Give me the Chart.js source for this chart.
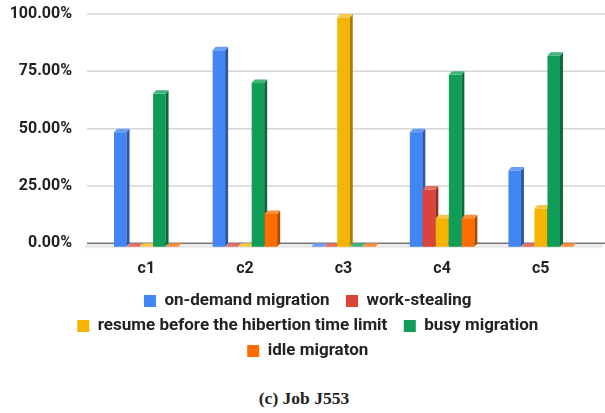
<!DOCTYPE html>
<html>
<head>
<meta charset="utf-8">
<script src="https://cdn.jsdelivr.net/npm/chart.js@4.4.1/dist/chart.umd.min.js"></script>
<style>
  html, body { margin: 0; padding: 0; background: #fff; }
  #wrap { position: relative; width: 605px; height: 413px; }
  #box { position: absolute; left: 0; top: 0; width: 605px; height: 372px; }
  #caption {
    position: absolute; left: 0; top: 388px; width: 608px; line-height: 20px;
    text-align: center; font-family: "Liberation Serif", serif; font-weight: bold;
    font-size: 17.5px; color: #222;
  }
</style>
</head>
<body>
<div id="wrap">
  <div id="box"><canvas id="chart"></canvas></div>
  <div id="caption">(c) Job J553</div>
</div>
<script>
// --- data ---
const categories = ["c1", "c2", "c3", "c4", "c5"];
const onDemand     = [50, 85.7, 0, 50, 33.3];
const workStealing = [0, 0, 0, 25, 0];
const resumeBefore = [0, 0, 100, 12.5, 16.7];
const busyMigr     = [66.7, 71.4, 0, 75, 83.3];
const idleMigr     = [0, 14.3, 0, 12.5, 0];
const seriesNames = [
  "on-demand migration", "work-stealing",
  "resume before the hibertion time limit", "busy migration", "idle migraton"
];
const seriesValues = [onDemand, workStealing, resumeBefore, busyMigr, idleMigr];

// front / side / top colours of the 3d bars
const frontColors = ["#4285F4", "#DB4437", "#F4B400", "#0F9D58", "#FF6D00"];
const sideColors  = ["#2B57A8", "#962A20", "#A97D00", "#0A6A3B", "#AE4A00"];
const topColors   = ["#6A9EF6", "#E36E63", "#F7C84A", "#3FB37A", "#FF8E3C"];

const DX = 3, DY = 3.5;       // bar depth
const GRID_L = 87, GRID_R = 605;
const LEGEND_SHIFT = 13, LEGEND_DY = 2;

// grid on the back wall + floor, then the 3d bars in group order
const bars3d = {
  id: "bars3d",
  afterLayout(chart) {
    const lg = chart.legend;
    lg.left += LEGEND_SHIFT; lg.right += LEGEND_SHIFT;
    lg.top += LEGEND_DY; lg.bottom += LEGEND_DY;
  },
  beforeDatasetsDraw(chart) {
    const { ctx, scales: { y } } = chart;
    const zy = y.getPixelForValue(0);
    ctx.save();
    ctx.strokeStyle = "#d6d6d6";
    ctx.lineWidth = 1.5;
    y.ticks.forEach(t => {
      if (t.value === 0) return;
      const py = y.getPixelForValue(t.value);
      ctx.beginPath(); ctx.moveTo(GRID_L, py); ctx.lineTo(GRID_R, py); ctx.stroke();
    });
    ctx.fillStyle = "#ebebeb";
    ctx.beginPath();
    ctx.moveTo(GRID_L, zy); ctx.lineTo(GRID_R, zy);
    ctx.lineTo(GRID_R - DX, zy + DY + 1.5); ctx.lineTo(GRID_L - DX, zy + DY + 1.5);
    ctx.closePath(); ctx.fill();
    ctx.strokeStyle = "#777";
    ctx.beginPath(); ctx.moveTo(GRID_L, zy); ctx.lineTo(GRID_R, zy); ctx.stroke();
    ctx.restore();
  },
  afterDatasetsDraw(chart) {
    const { ctx } = chart;
    ctx.save();
    categories.forEach((_, i) => {
      seriesValues.forEach((_, d) => {
        const el = chart.getDatasetMeta(d).data[i];
        if (!el) return;
        const { x, y, base, width } = el.getProps(["x", "y", "base", "width"], true);
        const l = x - width / 2, r = x + width / 2;
        const fl = l - DX, fr = r - DX, ft = y + DY, fb = base + DY;
        ctx.fillStyle = frontColors[d];
        ctx.fillRect(fl, ft, fr - fl, fb - ft);
        ctx.fillStyle = sideColors[d];
        ctx.beginPath();
        ctx.moveTo(fr, ft); ctx.lineTo(r, y); ctx.lineTo(r, base); ctx.lineTo(fr, fb);
        ctx.closePath(); ctx.fill();
        ctx.fillStyle = topColors[d];
        ctx.beginPath();
        ctx.moveTo(fl, ft); ctx.lineTo(l, y); ctx.lineTo(r, y); ctx.lineTo(fr, ft);
        ctx.closePath(); ctx.fill();
      });
    });
    ctx.restore();
  }
};

const boldFont = (size) => ({ family: "Roboto", weight: "bold", size });

new Chart(document.getElementById("chart"), {
  type: "bar",
  data: {
    labels: categories,
    datasets: seriesValues.map((vals, d) => ({
      label: seriesNames[d],
      data: vals,
      backgroundColor: "rgba(0,0,0,0)",
      barPercentage: 0.96,
      categoryPercentage: 0.66
    }))
  },
  options: {
    responsive: true,
    maintainAspectRatio: false,
    animation: false,
    layout: { autoPadding: false, padding: { left: 5, right: 12, top: 14, bottom: 4.5 } },
    plugins: {
      tooltip: { enabled: false },
      legend: {
        position: "bottom",
        labels: {
          font: boldFont(17),
          color: "#222",
          boxWidth: 12,
          boxHeight: 12,
          padding: 8,
          useBorderRadius: true,
          borderRadius: 2,
          // two trailing spaces widen the gap between items
          generateLabels: chart => chart.data.datasets.map((ds, i) => ({
            text: ds.label + "  ",
            fillStyle: frontColors[i],
            strokeStyle: frontColors[i],
            lineWidth: 0,
            fontColor: "#222",
            hidden: false,
            datasetIndex: i
          }))
        }
      }
    },
    scales: {
      x: {
        grid: { display: false, drawTicks: false },
        border: { display: false },
        ticks: { font: boldFont(16), color: "#222", padding: 16, labelOffset: -3 },
        afterFit(s) { s.height = 39.2; s.paddingTop = 0; s.paddingBottom = 0; }
      },
      y: {
        min: 0,
        max: 100,
        grid: { display: false, drawTicks: false },
        border: { display: false },
        ticks: {
          stepSize: 25,
          font: boldFont(16),
          color: "#222",
          padding: 28,
          callback: v => v.toFixed(2) + "%"
        },
        afterFit(s) { s.width = 95; s.paddingTop = 0; s.paddingBottom = 0; }
      }
    }
  },
  plugins: [bars3d]
});
</script>
</body>
</html>
